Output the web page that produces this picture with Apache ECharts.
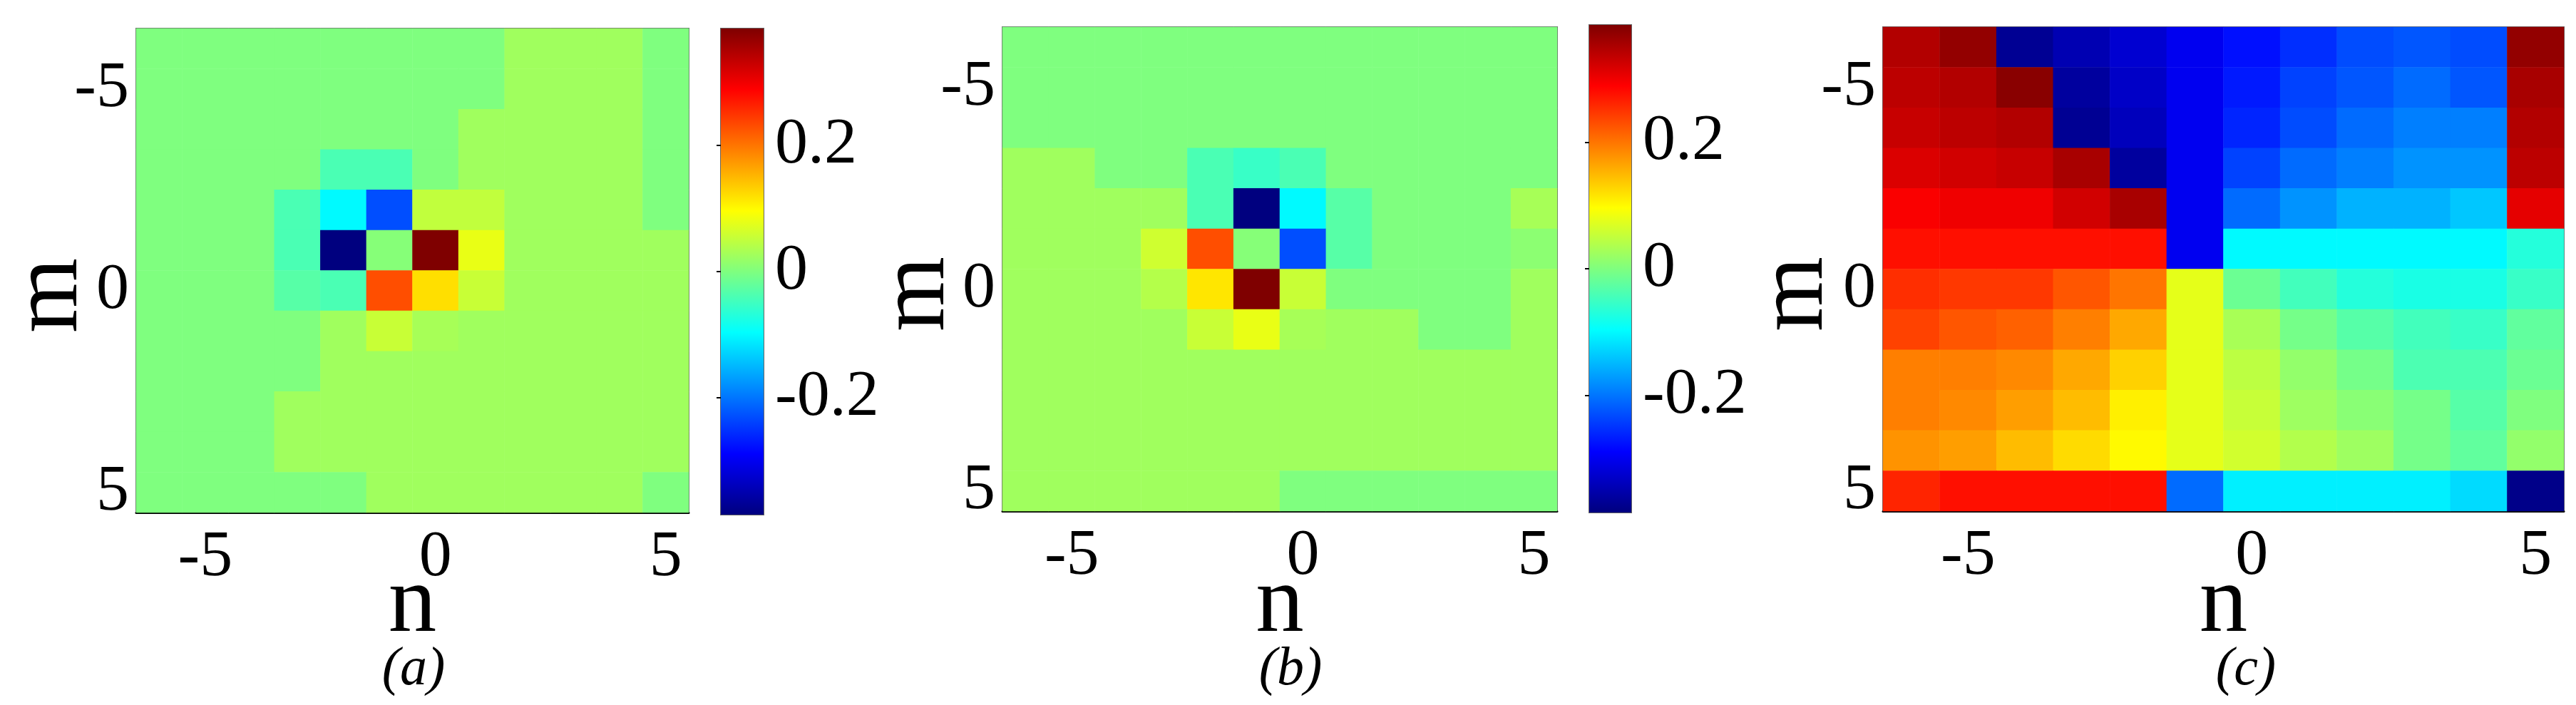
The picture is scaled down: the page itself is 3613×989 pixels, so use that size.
<!DOCTYPE html>
<html>
<head>
<meta charset="utf-8">
<script src="https://cdn.jsdelivr.net/npm/echarts@6/dist/echarts.min.js"></script>
<style>
html, body { margin: 0; padding: 0; background: #fff; }
#chart { width: 3613px; height: 989px; }
</style>
</head>
<body>
<div id="chart"></div>
<script>
// n (columns) and m (rows) indices
var nValues = [-6, -5, -4, -3, -2, -1, 0, 1, 2, 3, 4, 5];
var mValues = [-6, -5, -4, -3, -2, -1, 0, 1, 2, 3, 4, 5];
var tickLabels = [-5, 0, 5];
var barTicks = [-0.2, 0, 0.2];
var barRange = [-0.385, 0.385];

// (a) rows m=-6..5, columns n=-6..5
var gridA = [
    [0, 0, 0, 0, 0, 0, 0, 0, 0.025, 0.025, 0.025, 0],
    [0, 0, 0, 0, 0, 0, 0, 0, 0.025, 0.025, 0.025, 0],
    [0, 0, 0, 0, 0, 0, 0, 0.025, 0.025, 0.025, 0.025, 0],
    [0, 0, 0, 0, -0.04, -0.04, 0, 0.025, 0.025, 0.025, 0.025, 0],
    [0, 0, 0, -0.04, -0.10, -0.23, 0.05, 0.05, 0.025, 0.025, 0.025, 0],
    [0, 0, 0, -0.04, -0.385, 0.005, 0.385, 0.08, 0.025, 0.025, 0.025, 0.025],
    [0, 0, 0, -0.03, -0.04, 0.23, 0.12, 0.055, 0.025, 0.025, 0.025, 0.025],
    [0, 0, 0, 0, 0.025, 0.055, 0.03, 0.025, 0.025, 0.025, 0.025, 0.025],
    [0, 0, 0, 0, 0.025, 0.025, 0.025, 0.025, 0.025, 0.025, 0.025, 0.025],
    [0, 0, 0, 0.025, 0.025, 0.025, 0.025, 0.025, 0.025, 0.025, 0.025, 0.025],
    [0, 0, 0, 0.025, 0.025, 0.025, 0.025, 0.025, 0.025, 0.025, 0.025, 0.025],
    [0, 0, 0, 0, 0, 0.025, 0.025, 0.025, 0.025, 0.025, 0.025, 0]
];

// (b)
var gridB = [
    [0, 0, 0, 0, 0, 0, 0, 0, 0, 0, 0, 0],
    [0, 0, 0, 0, 0, 0, 0, 0, 0, 0, 0, 0],
    [0, 0, 0, 0, 0, 0, 0, 0, 0, 0, 0, 0],
    [0.025, 0.025, 0, 0, -0.04, -0.054, -0.04, 0, 0, 0, 0, 0],
    [0.025, 0.025, 0.025, 0.025, -0.04, -0.385, -0.10, -0.03, 0, 0, 0, 0.03],
    [0.025, 0.025, 0.025, 0.06, 0.23, 0.005, -0.23, -0.03, 0, 0, 0, 0.01],
    [0.025, 0.025, 0.025, 0.04, 0.115, 0.385, 0.055, 0, 0, 0, 0, 0.025],
    [0.025, 0.025, 0.025, 0.025, 0.055, 0.08, 0.03, 0.025, 0.025, 0, 0, 0.025],
    [0.025, 0.025, 0.025, 0.025, 0.025, 0.025, 0.025, 0.025, 0.025, 0.025, 0.025, 0.025],
    [0.025, 0.025, 0.025, 0.025, 0.025, 0.025, 0.025, 0.025, 0.025, 0.025, 0.025, 0.025],
    [0.025, 0.025, 0.025, 0.025, 0.025, 0.025, 0.025, 0.025, 0.025, 0.025, 0.025, 0.025],
    [0.025, 0.025, 0.025, 0.025, 0.025, 0.025, 0, 0, 0, 0, 0, 0]
];

// (c) normalised colour level 0..1
var gridC = [
    [0.95, 0.98, 0.02, 0.05, 0.08, 0.11, 0.14, 0.17, 0.20, 0.21, 0.20, 0.98],
    [0.94, 0.95, 0.99, 0.03, 0.07, 0.11, 0.15, 0.19, 0.21, 0.23, 0.21, 0.96],
    [0.93, 0.94, 0.95, 0.02, 0.06, 0.11, 0.16, 0.20, 0.23, 0.25, 0.25, 0.95],
    [0.91, 0.92, 0.93, 0.96, 0.03, 0.11, 0.19, 0.23, 0.25, 0.27, 0.27, 0.94],
    [0.88, 0.89, 0.89, 0.92, 0.96, 0.11, 0.23, 0.27, 0.30, 0.30, 0.32, 0.90],
    [0.86, 0.86, 0.86, 0.86, 0.86, 0.11, 0.37, 0.37, 0.37, 0.37, 0.37, 0.41],
    [0.83, 0.82, 0.82, 0.79, 0.76, 0.60, 0.48, 0.44, 0.41, 0.40, 0.40, 0.43],
    [0.81, 0.79, 0.78, 0.75, 0.71, 0.60, 0.54, 0.49, 0.46, 0.44, 0.43, 0.47],
    [0.75, 0.75, 0.74, 0.71, 0.67, 0.60, 0.56, 0.52, 0.49, 0.45, 0.45, 0.48],
    [0.75, 0.74, 0.72, 0.69, 0.64, 0.60, 0.57, 0.53, 0.51, 0.49, 0.46, 0.50],
    [0.73, 0.72, 0.69, 0.66, 0.63, 0.60, 0.58, 0.55, 0.53, 0.49, 0.47, 0.52],
    [0.84, 0.86, 0.86, 0.86, 0.86, 0.23, 0.36, 0.36, 0.36, 0.36, 0.34, 0.01]
];

var jet = ['#00007f', '#0000ff', '#007fff', '#00ffff', '#7fff7f', '#ffff00', '#ff7f00', '#ff0000', '#7f0000'];
var FONT = '"Liberation Serif", "DejaVu Serif", serif';

function toCells(grid) {
    var out = [];
    grid.forEach(function(row, i) {
        row.forEach(function(v, j) { out.push([j, i, v]); });
    });
    return out;
}

function showTick(idx, val) {
    return tickLabels.indexOf(Number(val)) >= 0;
}

var plots = [
    { grid: gridA, left: 191, width: 775, top: 40, height: 679, range: barRange, mX: 72, cap: '(a)', capX: 580 },
    { grid: gridB, left: 1406, width: 778, top: 38, height: 679, range: barRange, mX: 1288, cap: '(b)', capX: 1810 },
    { grid: gridC, left: 2641, width: 955, top: 38, height: 679, range: [0, 1], mX: 2520, cap: '(c)', capX: 3150 }
];
var bars = [
    { left: 1011, top: 40, width: 60, height: 682 },
    { left: 2229, top: 35, width: 59, height: 684 }
];

var option = {
    animation: false,
    backgroundColor: '#fff',
    grid: [], xAxis: [], yAxis: [], series: [], visualMap: [], graphic: []
};

plots.forEach(function(p, k) {
    option.grid.push({ left: p.left, top: p.top, width: p.width, height: p.height, show: true,
        borderColor: '#666', borderWidth: 2, backgroundColor: 'transparent' });
    option.xAxis.push({
        type: 'category', gridIndex: k, data: nValues,
        axisLine: { show: true, lineStyle: { color: '#000', width: 3 } },
        axisTick: { show: true, inside: true, length: 6, interval: showTick, alignWithLabel: true, lineStyle: { color: '#000', width: 2 } },
        axisLabel: { interval: showTick, fontFamily: FONT, fontSize: 92, color: '#000', margin: 18 },
        splitLine: { show: false }
    });
    option.yAxis.push({
        type: 'category', gridIndex: k, data: mValues, inverse: true,
        axisLine: { show: false },
        axisTick: { show: true, inside: true, length: 6, interval: showTick, alignWithLabel: true, lineStyle: { color: '#000', width: 2 } },
        axisLabel: { interval: showTick, fontFamily: FONT, fontSize: 92, color: '#000', margin: 10 },
        splitLine: { show: false }
    });
    option.series.push({ type: 'heatmap', xAxisIndex: k, yAxisIndex: k, data: toCells(p.grid), itemStyle: { borderWidth: 0 } });
    option.visualMap.push({ type: 'continuous', show: false, seriesIndex: option.series.length - 1,
        min: p.range[0], max: p.range[1], inRange: { color: jet } });
    option.graphic.push({ type: 'text', x: p.left + p.width / 2, y: 850,
        style: { text: 'n', font: '135px ' + FONT, fill: '#000', align: 'center', verticalAlign: 'middle' } });
    option.graphic.push({ type: 'text', x: p.mX, y: p.top + p.height / 2 + 35, rotation: Math.PI / 2,
        style: { text: 'm', font: '135px ' + FONT, fill: '#000', align: 'center', verticalAlign: 'middle' } });
    option.graphic.push({ type: 'text', x: p.capX, y: 940,
        style: { text: p.cap, font: 'italic 76px ' + FONT, fill: '#000', align: 'center', verticalAlign: 'middle' } });
});

bars.forEach(function(b, i) {
    var k = option.grid.length;
    option.grid.push({ left: b.left, top: b.top, width: b.width, height: b.height, show: true, borderColor: '#666', borderWidth: 2 });
    option.xAxis.push({ type: 'value', gridIndex: k, min: 0, max: 1, show: false });
    option.yAxis.push({
        type: 'value', gridIndex: k, position: 'right', min: barRange[0], max: barRange[1],
        axisLine: { show: false },
        splitLine: { show: false },
        axisTick: { show: true, inside: true, length: 6, customValues: barTicks, lineStyle: { color: '#000', width: 2 } },
        axisLabel: { customValues: barTicks, fontFamily: FONT, fontSize: 92, color: '#000', margin: 16,
            formatter: function(v) { return v === 0 ? '0' : String(Math.round(v * 10) / 10); } }
    });
    option.series.push({
        type: 'custom', xAxisIndex: k, yAxisIndex: k, data: [[0, barRange[0], 1, barRange[1]]],
        renderItem: function(params, api) {
            var p0 = api.coord([api.value(0), api.value(1)]);
            var p1 = api.coord([api.value(2), api.value(3)]);
            var stops = jet.map(function(c, j) { return { offset: j / (jet.length - 1), color: c }; });
            return { type: 'rect', shape: { x: p0[0], y: p1[1], width: p1[0] - p0[0], height: p0[1] - p1[1] },
                style: { fill: new echarts.graphic.LinearGradient(0, 1, 0, 0, stops) }, z2: -1 };
        }
    });
});

var chart = echarts.init(document.getElementById('chart'));
chart.setOption(option);
</script>
</body>
</html>
